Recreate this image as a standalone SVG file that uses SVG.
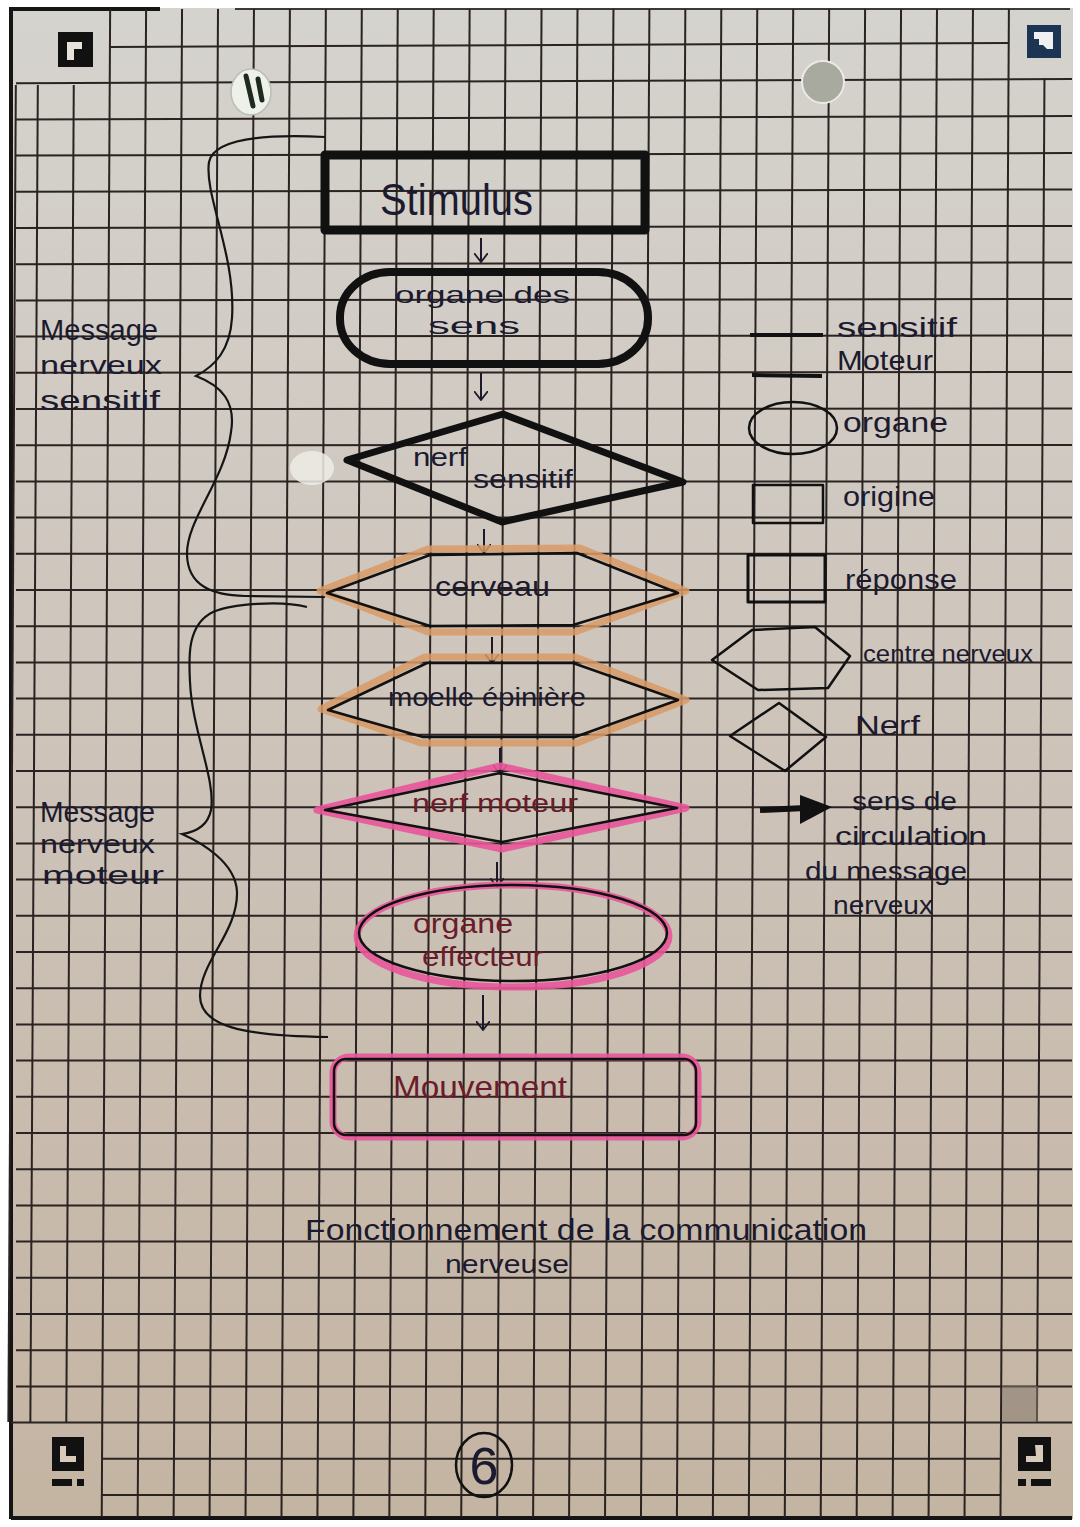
<svg xmlns="http://www.w3.org/2000/svg" width="1080" height="1527" viewBox="0 0 1080 1527">
<defs>
<linearGradient id="paper" x1="0" y1="0" x2="0" y2="1">
<stop offset="0" stop-color="#d5d3ce"/>
<stop offset="0.5" stop-color="#cdc3b9"/>
<stop offset="1" stop-color="#c4b4a2"/>
</linearGradient>
<marker id="vhead" viewBox="0 0 10 14" refX="9" refY="7" markerWidth="10" markerHeight="14" markerUnits="userSpaceOnUse" orient="auto-start-reverse">
<path d="M0,0 L9,7 L0,14" fill="none" stroke="#1c1a2a" stroke-width="1.8"/>
</marker>
</defs>
<style>
.grid line{stroke:#2a2321;stroke-width:2}
.ink{fill:none;stroke:#111;stroke-linejoin:round;stroke-linecap:round}
.hl-or{fill:none;stroke:#d89a66;stroke-width:7;stroke-linejoin:round;opacity:.85}
.hl-pk{fill:none;stroke:#e9559a;stroke-width:7;stroke-linejoin:round;opacity:.9}
.t{font-family:"Liberation Sans","DejaVu Sans",sans-serif;fill:#1c1a2e}
.tr{font-family:"Liberation Sans","DejaVu Sans",sans-serif;fill:#6a1c2c}
.conn{fill:none;stroke:#1c1a2a;stroke-width:2;marker-end:url(#vhead)}
.brace{fill:none;stroke:#151515;stroke-width:2.2}
</style>
<rect width="1080" height="1527" fill="#ffffff"/>
<rect x="10" y="8" width="1063" height="1511" fill="url(#paper)"/>
<path d="M11,1519 L11,9 L160,9" fill="none" stroke="#151515" stroke-width="4"/>
<path d="M235,9 L1070,9" fill="none" stroke="#3a3a3a" stroke-width="2"/>
<path d="M11,1518 L1072,1518" fill="none" stroke="#151515" stroke-width="4"/>

<g id="grid" class="grid">
<g transform="translate(0.3,0) skewX(-0.32)">
<line x1="16" y1="85" x2="16" y2="1422"/>
<line x1="38" y1="85" x2="38" y2="1422"/>
<line x1="73.95" y1="85" x2="73.95" y2="1422"/>
<line x1="109.9" y1="9" x2="109.9" y2="1517"/>
<line x1="145.85" y1="9" x2="145.85" y2="1517"/>
<line x1="181.8" y1="9" x2="181.8" y2="1517"/>
<line x1="217.75" y1="9" x2="217.75" y2="1517"/>
<line x1="253.7" y1="9" x2="253.7" y2="1517"/>
<line x1="289.65" y1="9" x2="289.65" y2="1517"/>
<line x1="325.6" y1="9" x2="325.6" y2="1517"/>
<line x1="361.55" y1="9" x2="361.55" y2="1517"/>
<line x1="397.5" y1="9" x2="397.5" y2="1517"/>
<line x1="433.45" y1="9" x2="433.45" y2="1517"/>
<line x1="469.4" y1="9" x2="469.4" y2="1517"/>
<line x1="505.35" y1="9" x2="505.35" y2="1517"/>
<line x1="541.3" y1="9" x2="541.3" y2="1517"/>
<line x1="577.25" y1="9" x2="577.25" y2="1517"/>
<line x1="613.2" y1="9" x2="613.2" y2="1517"/>
<line x1="649.15" y1="9" x2="649.15" y2="1517"/>
<line x1="685.1" y1="9" x2="685.1" y2="1517"/>
<line x1="721.05" y1="9" x2="721.05" y2="1517"/>
<line x1="757" y1="9" x2="757" y2="1517"/>
<line x1="792.95" y1="9" x2="792.95" y2="1517"/>
<line x1="828.9" y1="9" x2="828.9" y2="1517"/>
<line x1="864.85" y1="9" x2="864.85" y2="1517"/>
<line x1="900.8" y1="9" x2="900.8" y2="1517"/>
<line x1="936.75" y1="9" x2="936.75" y2="1517"/>
<line x1="972.7" y1="9" x2="972.7" y2="1517"/>
<line x1="1008.65" y1="9" x2="1008.65" y2="1517"/>
<line x1="1044.6" y1="78" x2="1044.6" y2="1422"/>
</g>
<line x1="110" y1="47" x2="1009" y2="43"/>
<line x1="16" y1="83.2" x2="1072" y2="79"/>
<line x1="16" y1="119.4" x2="1072" y2="116"/>
<line x1="16" y1="155.6" x2="1072" y2="153"/>
<line x1="16" y1="191.8" x2="1072" y2="189.5"/>
<line x1="16" y1="228" x2="1072" y2="226"/>
<line x1="16" y1="264.2" x2="1072" y2="262.5"/>
<line x1="16" y1="300.4" x2="1072" y2="299"/>
<line x1="16" y1="336.6" x2="1072" y2="335.5"/>
<line x1="16" y1="372.8" x2="1072" y2="372"/>
<line x1="16" y1="409" x2="1072" y2="408.5"/>
<line x1="16" y1="445.2" x2="1072" y2="445"/>
<line x1="16" y1="481.4" x2="1072" y2="481.4"/>
<line x1="16" y1="517.6" x2="1072" y2="517.6"/>
<line x1="16" y1="553.8" x2="1072" y2="553.8"/>
<line x1="16" y1="590" x2="1072" y2="590"/>
<line x1="16" y1="626.2" x2="1072" y2="626.2"/>
<line x1="16" y1="662.4" x2="1072" y2="662.4"/>
<line x1="16" y1="698.6" x2="1072" y2="698.6"/>
<line x1="16" y1="734.8" x2="1072" y2="734.8"/>
<line x1="16" y1="771" x2="1072" y2="771"/>
<line x1="16" y1="807.2" x2="1072" y2="807.2"/>
<line x1="16" y1="843.4" x2="1072" y2="843.4"/>
<line x1="16" y1="879.6" x2="1072" y2="879.6"/>
<line x1="16" y1="915.8" x2="1072" y2="915.8"/>
<line x1="16" y1="952" x2="1072" y2="952"/>
<line x1="16" y1="988.2" x2="1072" y2="988.2"/>
<line x1="16" y1="1024.4" x2="1072" y2="1024.4"/>
<line x1="16" y1="1060.6" x2="1072" y2="1060.6"/>
<line x1="16" y1="1096.8" x2="1072" y2="1096.8"/>
<line x1="16" y1="1133" x2="1072" y2="1133"/>
<line x1="16" y1="1169.2" x2="1072" y2="1169.2"/>
<line x1="16" y1="1205.4" x2="1072" y2="1205.4"/>
<line x1="16" y1="1241.6" x2="1072" y2="1241.6"/>
<line x1="16" y1="1277.8" x2="1072" y2="1277.8"/>
<line x1="16" y1="1314" x2="1072" y2="1314"/>
<line x1="16" y1="1350.2" x2="1072" y2="1350.2"/>
<line x1="16" y1="1386.4" x2="1072" y2="1386.4"/>
<line x1="11" y1="1422.6" x2="1072" y2="1422.6"/>
<line x1="102" y1="1458.8" x2="1000" y2="1458.8"/>
<line x1="102" y1="1495" x2="1000" y2="1495"/>
</g>

<g id="page-marks">
<rect x="58" y="32" width="35" height="35" fill="#111"/>
<path d="M67,42 h15 v7 h-8 v11 h-7 z" fill="#e6e2da"/>
<rect x="1027" y="25" width="34" height="33" fill="#1b3552"/>
<path d="M1034,32 h19 v17 h-6 l-4,-4 h-4 v-6 h-5 z" fill="#eef0f2"/>
<rect x="52" y="1437" width="32" height="34" fill="#111"/>
<path d="M60,1446 h6 v10 h10 v6 h-16 z" fill="#d8cbbb"/>
<rect x="52" y="1479" width="20" height="7" fill="#111"/>
<rect x="77" y="1479" width="7" height="7" fill="#111"/>
<rect x="1018" y="1437" width="33" height="34" fill="#111"/>
<path d="M1035,1445 h8 v17 h-17 v-6 h10 z" fill="#d8cbbb"/>
<rect x="1018" y="1479" width="8" height="7" fill="#111"/>
<rect x="1031" y="1479" width="20" height="7" fill="#111"/>
<rect x="1002" y="1386" width="36" height="36" fill="#857a6e" opacity="0.55"/>
<ellipse cx="251" cy="92" rx="20" ry="23" fill="#eef0ea" stroke="#b9bdb4" stroke-width="1.5"/>
<path d="M246,76 L253,106 M258,79 L262,100" stroke="#1f2a1c" stroke-width="5" stroke-linecap="round"/>
<circle cx="823" cy="82" r="21" fill="#a8aa9f" stroke="#eceae4" stroke-width="2"/>
<ellipse cx="312" cy="468" rx="22" ry="17" fill="#efece6" opacity="0.85"/>
</g>

<g id="braces">
<path class="brace" d="M325,137 C 265,134 214,138 209,162 C 204,195 236,255 232,318 C 230,350 215,366 196,376 C 222,386 236,402 231,432 C 225,480 186,520 187,555 C 188,586 212,595 245,596 L 325,597"/>
<path class="brace" d="M307,607 C 280,600 232,604 213,612 C 186,625 189,660 190,682 C 192,730 216,780 211,810 C 208,825 196,832 182,834 C 200,842 236,862 237,892 C 238,932 200,962 200,996 C 200,1026 242,1036 328,1037"/>
</g>

<g id="connectors">
<path class="conn" d="M481,238 L481,262"/>
<path class="conn" d="M481,373 L481,400"/>
<path class="conn" d="M484,529 L484,553"/>
<path class="conn" d="M492,637 L492,663"/>
<path class="conn" d="M500,748 L500,774"/>
<path class="conn" d="M497,862 L497,887"/>
<path class="conn" d="M483,995 L483,1030"/>
</g>

<g id="node-stimulus">
<rect class="ink" x="325" y="155" width="320" height="75" stroke-width="9"/>
<text class="t" x="380" y="215" font-size="44" textLength="153" lengthAdjust="spacingAndGlyphs">Stimulus</text>
</g>

<g id="node-organe-des-sens">
<rect class="ink" x="340" y="272" width="308" height="92" rx="50" ry="45" stroke-width="8"/>
<text class="t" x="395" y="303" font-size="24" textLength="175" lengthAdjust="spacingAndGlyphs">organe des</text>
<text class="t" x="428" y="334" font-size="24" textLength="92" lengthAdjust="spacingAndGlyphs">sens</text>
</g>

<g id="node-nerf-sensitif">
<polygon class="ink" points="347,460 503,414 683,482 502,522" stroke-width="7"/>
<text class="t" x="413" y="466" font-size="26" textLength="54" lengthAdjust="spacingAndGlyphs">nerf</text>
<text class="t" x="473" y="488" font-size="26" textLength="100" lengthAdjust="spacingAndGlyphs">sensitif</text>
</g>

<g id="node-cerveau">
<polygon class="hl-or" points="320,591 428,549 580,548 686,591 575,632 428,632"/>
<polygon class="ink" points="327,593 430,555 577,553 678,593 573,625 430,626" stroke-width="2.5"/>
<text class="t" x="435" y="596" font-size="28" textLength="115" lengthAdjust="spacingAndGlyphs">cerveau</text>
</g>

<g id="node-moelle-epiniere">
<polygon class="hl-or" points="321,709 425,657 575,657 686,700 577,743 421,743"/>
<polygon class="ink" points="328,710 427,663 573,663 678,700 575,737 423,737" stroke-width="2.5"/>
<text class="t" x="388" y="706" font-size="26" textLength="198" lengthAdjust="spacingAndGlyphs">moelle épinière</text>
</g>

<g id="node-nerf-moteur">
<polygon class="hl-pk" points="317,810 500,766 686,808 502,849"/>
<polygon class="ink" points="325,810 500,773 677,808 502,842" stroke-width="2.5"/>
<text class="tr" x="412" y="812" font-size="26" textLength="166" lengthAdjust="spacingAndGlyphs">nerf moteur</text>
</g>

<g id="node-organe-effecteur">
<ellipse class="hl-pk" cx="513" cy="936" rx="156" ry="51"/>
<ellipse class="ink" cx="513" cy="933" rx="154" ry="48" stroke-width="2.5"/>
<text class="tr" x="413" y="933" font-size="28" textLength="100" lengthAdjust="spacingAndGlyphs">organe</text>
<text class="tr" x="422" y="966" font-size="28" textLength="121" lengthAdjust="spacingAndGlyphs">effecteur</text>
</g>

<g id="node-mouvement">
<rect class="hl-pk" x="333" y="1057" width="365" height="80" rx="16"/>
<rect class="ink" x="334" y="1059" width="362" height="76" rx="12" stroke-width="2.5"/>
<text class="tr" x="393" y="1098" font-size="32" textLength="174" lengthAdjust="spacingAndGlyphs">Mouvement</text>
</g>

<g id="label-sensitif">
<text class="t" x="40" y="340" font-size="30" textLength="118" lengthAdjust="spacingAndGlyphs">Message</text>
<text class="t" x="40" y="374" font-size="26" textLength="122" lengthAdjust="spacingAndGlyphs">nerveux</text>
<text class="t" x="40" y="410" font-size="28" textLength="120" lengthAdjust="spacingAndGlyphs">sensitif</text>
</g>

<g id="label-moteur">
<text class="t" x="40" y="822" font-size="30" textLength="115" lengthAdjust="spacingAndGlyphs">Message</text>
<text class="t" x="40" y="853" font-size="26" textLength="115" lengthAdjust="spacingAndGlyphs">nerveux</text>
<text class="t" x="42" y="884" font-size="26" textLength="122" lengthAdjust="spacingAndGlyphs">moteur</text>
</g>

<g id="legend">
<g id="legend-sensitif">
<line x1="750" y1="335" x2="823" y2="335" stroke="#111" stroke-width="4"/>
<text class="t" x="837" y="337" font-size="28" textLength="120" lengthAdjust="spacingAndGlyphs">sensitif</text>
</g>
<g id="legend-moteur">
<line x1="752" y1="375" x2="822" y2="376" stroke="#111" stroke-width="4"/>
<text class="t" x="837" y="370" font-size="28" textLength="96" lengthAdjust="spacingAndGlyphs">Moteur</text>
</g>
<g id="legend-organe">
<ellipse class="ink" cx="793" cy="428" rx="44" ry="26" stroke-width="2.5"/>
<text class="t" x="843" y="432" font-size="28" textLength="105" lengthAdjust="spacingAndGlyphs">organe</text>
</g>
<g id="legend-origine">
<rect class="ink" x="753" y="485" width="70" height="38" stroke-width="2.5"/>
<text class="t" x="843" y="506" font-size="28" textLength="92" lengthAdjust="spacingAndGlyphs">origine</text>
</g>
<g id="legend-reponse">
<rect class="ink" x="748" y="555" width="77" height="47" stroke-width="3"/>
<text class="t" x="845" y="589" font-size="28" textLength="112" lengthAdjust="spacingAndGlyphs">réponse</text>
</g>
<g id="legend-centre">
<polygon class="ink" points="712,660 752,630 815,627 850,656 828,688 758,690" stroke-width="2.5"/>
<text class="t" x="863" y="662" font-size="24" textLength="170" lengthAdjust="spacingAndGlyphs">centre nerveux</text>
</g>
<g id="legend-nerf">
<polygon class="ink" points="730,736 779,703 826,737 785,771" stroke-width="2.5"/>
<text class="t" x="855" y="735" font-size="28" textLength="65" lengthAdjust="spacingAndGlyphs">Nerf</text>
</g>
<g id="legend-sens">
<line x1="760" y1="810" x2="806" y2="808" stroke="#111" stroke-width="6"/>
<polygon points="800,795 832,807 800,824" fill="#111"/>
<text class="t" x="852" y="810" font-size="26" textLength="105" lengthAdjust="spacingAndGlyphs">sens de</text>
<text class="t" x="835" y="845" font-size="26" textLength="152" lengthAdjust="spacingAndGlyphs">circulation</text>
<text class="t" x="805" y="880" font-size="26" textLength="162" lengthAdjust="spacingAndGlyphs">du message</text>
<text class="t" x="833" y="914" font-size="26" textLength="100" lengthAdjust="spacingAndGlyphs">nerveux</text>
</g>
</g>

<g id="title">
<text class="t" x="305" y="1240" font-size="30" textLength="562" lengthAdjust="spacingAndGlyphs">Fonctionnement de la communication</text>
<text class="t" x="445" y="1273" font-size="26" textLength="124" lengthAdjust="spacingAndGlyphs">nerveuse</text>
</g>

<g id="page-number">
<ellipse cx="484" cy="1465" rx="28" ry="32" fill="none" stroke="#111" stroke-width="2.5"/>
<text class="t" x="484" y="1484" font-size="52" text-anchor="middle" fill="#111">6</text>
</g>
</svg>
